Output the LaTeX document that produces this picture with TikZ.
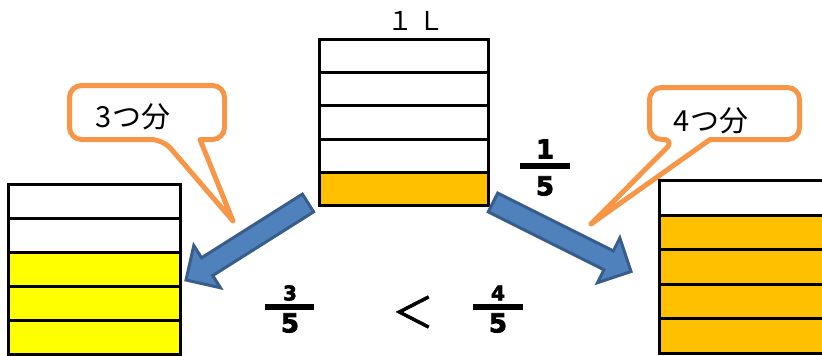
\documentclass[tikz,border=0pt]{standalone}
\usepackage{fontspec}
\newfontfamily\jpfont{Noto Sans CJK JP}
\newfontfamily\jpheavy{Noto Sans CJK JP}[FakeBold=1.5]
\newfontfamily\numfont{DejaVu Sans Bold}[FakeBold=3]
\usetikzlibrary{calc}

\definecolor{cupgold}{HTML}{FFC000}
\definecolor{cupyellow}{HTML}{FFFF00}
\definecolor{bubbleorange}{HTML}{F79646}
\definecolor{arrowblue}{HTML}{4F81BD}
\definecolor{arrowedge}{HTML}{385D8A}

\tikzset{
  cupline/.style={draw=black, line width=3pt},
  bubble/.style={draw=bubbleorange, fill=white, line width=5pt, line join=round},
  fatarrow/.style={fill=arrowblue, draw=arrowedge, line width=3pt, line join=miter},
  jptext/.style={font=\jpfont\fontsize{29}{29}\selectfont, inner sep=0pt},
  numtop/.style={font=\numfont\fontsize{20}{20}\selectfont, inner sep=0pt},
  numbot/.style={font=\numfont\fontsize{26}{26}\selectfont, inner sep=0pt},
  fracbar/.style={line width=5.5pt}
}

\begin{document}
\begin{tikzpicture}[x=1pt, y=-1pt]
			\useasboundingbox (0,0) rectangle (822,356);
			\clip (0,0) rectangle (822,356);

			% one litre in the middle
			\foreach \c [count=\i from 0] in {white,white,white,white,cupgold}
				\draw[cupline, fill=\c] (319.5,{39.5+33.2*\i}) rectangle (488.5,{39.5+33.2*(\i+1)});
			\node[font=\jpfont\fontsize{26}{26}\selectfont, inner sep=0pt] (litre) at (416,21) {１ Ｌ};

			% three fifths on the left
			\foreach \c [count=\i from 0] in {white,white,cupyellow,cupyellow,cupyellow}
				\draw[cupline, fill=\c] (8.5,{184.5+34*\i}) rectangle (180.5,{184.5+34*(\i+1)});

			% four fifths on the right
			\foreach \c [count=\i from 0] in {white,cupgold,cupgold,cupgold,cupgold}
				\draw[cupline, fill=\c] (659.5,{180.5+34.5*\i}) rectangle (840,{180.5+34.5*(\i+1)});

			% speech bubbles
			\draw[bubble] (233,221) -- (200,139.5) [rounded corners=12pt] -- (224.5,139.5) -- (224.5,85.5)
				-- (69.5,85.5) -- (69.5,139.5) -- (163,139.5) [sharp corners] -- cycle;
			\node[jptext] (three) at (133,117) {3つ分};

			\draw[bubble] (591,224) -- (710,139.5) [rounded corners=12pt] -- (799.5,139.5) -- (799.5,87.5)
				-- (649.5,87.5) -- (649.5,139.5) -- (675,139.5) [sharp corners] -- cycle;
			\node[jptext] (four) at (711,121) {4つ分};

			% block arrows
			\coordinate (LA) at (308,203);
			\coordinate (LB) at (186,280);
			\coordinate (RA) at (493,202.5);
			\coordinate (RB) at (631,271.5);
			\foreach \a/\b in {LA/LB, RA/RB} {
				\coordinate (H) at ($(\b)!25pt!(\a)$);
				\draw[fatarrow] ($(\a)!10.5pt!90:(\b)$) -- ($(H)!10.5pt!-90:(\a)$) -- ($(H)!25pt!-90:(\a)$)
					-- (\b) -- ($(H)!25pt!90:(\a)$) -- ($(H)!10.5pt!90:(\a)$) -- ($(\a)!10.5pt!-90:(\b)$) -- cycle;
			}

			% fractions
			\node[numbot] (oneT) at (545,149) {1};
			\node[numbot] (oneB) at (545,186) {5};
			\draw[fracbar] (520,166) -- (570,166);

			\node[numtop] (threeT) at (290,293) {3};
			\node[numbot] (threeB) at (290,323) {5};
			\draw[fracbar] (265,307) -- (314,307);

			\node[font=\jpheavy\fontsize{42}{42}\selectfont, inner sep=0pt] (less) at (413,312) {＜};

			\node[numtop] (fourT) at (498,293) {4};
			\node[numbot] (fourB) at (498,323) {5};
			\draw[fracbar] (473,307) -- (523,307);
		\end{tikzpicture}
\end{document}
